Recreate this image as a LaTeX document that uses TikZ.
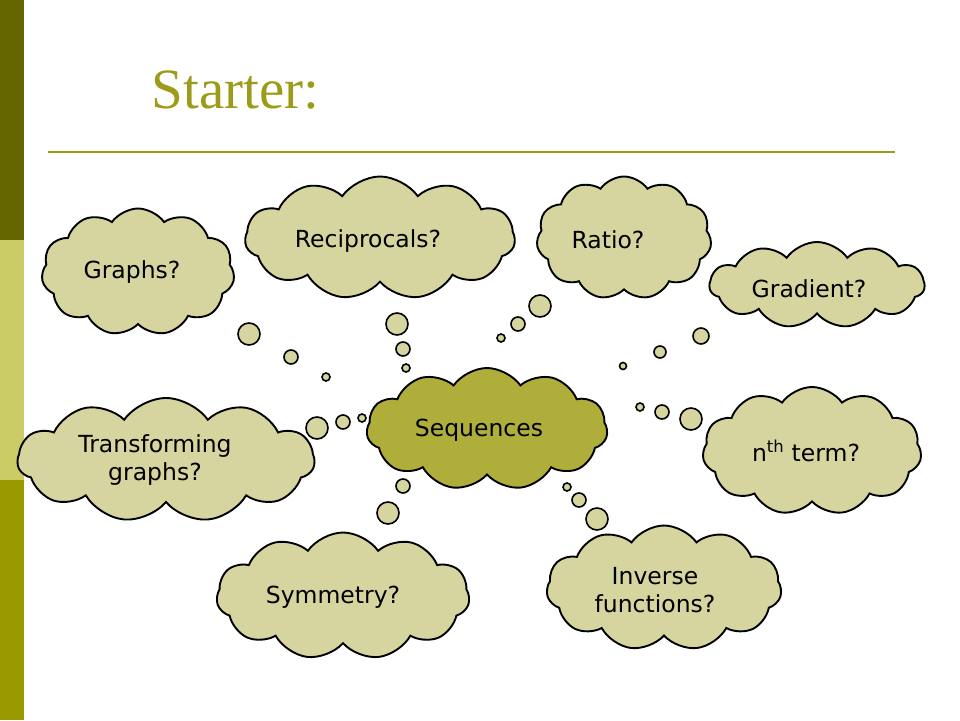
\documentclass[tikz,border=0pt]{standalone}
\usepackage{fontspec}
\setmainfont{Liberation Serif}
\newfontfamily\bodyfont{DejaVu Sans}
\usetikzlibrary{shapes.symbols,positioning}
\definecolor{bardark}{HTML}{666600}
\definecolor{barlight}{HTML}{CCCC66}
\definecolor{barmid}{HTML}{999900}
\definecolor{titleolive}{HTML}{9C9C1A}
\definecolor{cloudfill}{HTML}{D6D5A0}
\definecolor{seqfill}{HTML}{AFAE3B}
\tikzset{
    thought/.style={
        draw,
        cloud,
        cloud puffs=11,
        cloud puff arc=110,
        cloud ignores aspect,
        fill=cloudfill,
        line width=1.9pt,
        inner sep=0pt
    },
    word/.style={
        align=center,
        inner sep=0pt,
        font=\bodyfont\fontsize{23.5}{28.5}\selectfont
    },
    bubble/.style={
        draw,
        fill=cloudfill,
        line width=1.6pt
    }
}

\begin{document}
\begin{tikzpicture}[x=1pt,y=-1pt]
  \useasboundingbox (0,0) rectangle (960,720);
  \fill[bardark] (0,0) rectangle (24,240);
  \fill[barlight] (0,240) rectangle (24,480);
  \fill[barmid] (0,480) rectangle (24,720);

  \node[anchor=base west, text=titleolive, font=\fontsize{57}{60}\selectfont] (title) at (148,108) {Starter:};
  \draw[titleolive, line width=2pt] (48,152) -- (895,152);

  % bubbles, from large to small
  \foreach \x/\y/\r in {249/334/11, 291/357/7, 326/377/4,
                        397/324/11, 403/349/7, 406/368/4,
                        540/306/11, 518/324/7, 501/338/4,
                        701/336/8, 660/352/6, 623/366/3.5,
                        691/419/11, 662/412/7, 640/407/4,
                        317/428/11, 343/422/7, 362/418/4,
                        388/513/11, 403/486/7,
                        597/519/11, 579/500/7, 567/487/4}
    \draw[bubble] (\x,\y) circle (\r pt);

  \node[thought, minimum width=193pt, minimum height=127pt] (graphs) at (138,272) {};
  \node[word] (graphs text) at ([xshift=-6pt]graphs.center) {Graphs?};

  \node[thought, minimum width=270pt, minimum height=123pt] (recip) at (380,238) {};
  \node[word] (recip text) at ([xshift=-12pt,yshift=-3pt]recip.center) {Reciprocals?};

  \node[thought, minimum width=175pt, minimum height=123pt] (ratio) at (624,238) {};
  \node[word] (ratio text) at ([xshift=-16pt,yshift=-2pt]ratio.center) {Ratio?};

  \node[thought, minimum width=215pt, minimum height=86pt] (gradient) at (817,285) {};
  \node[word] (gradient text) at ([xshift=-8pt,yshift=-4pt]gradient.center) {Gradient?};

  \node[thought, minimum width=297pt, minimum height=124pt] (transf) at (166,460) {};
  \node[word] (transf text) at ([xshift=-11pt]transf.center) {Transforming\\graphs?};

  \node[thought, minimum width=241pt, minimum height=122pt, fill=seqfill] (seq) at (487,429) {};
  \node[word] (seq text) at ([xshift=-8pt,yshift=-1pt]seq.center) {Sequences};

  \node[thought, minimum width=219pt, minimum height=128pt] (nth) at (812,451) {};
  \node[word] (nth text) at ([xshift=-6pt]nth.center) {n\textsuperscript{th} term?};

  \node[thought, minimum width=253pt, minimum height=127pt] (symm) at (343,596) {};
  \node[word] (symm text) at ([xshift=-10pt,yshift=-1pt]symm.center) {Symmetry?};

  \node[thought, minimum width=235pt, minimum height=125pt] (inverse) at (664,588) {};
  \node[word] (inverse text) at ([xshift=-9pt,yshift=-2pt]inverse.center) {Inverse\\functions?};

\end{tikzpicture}
\end{document}
